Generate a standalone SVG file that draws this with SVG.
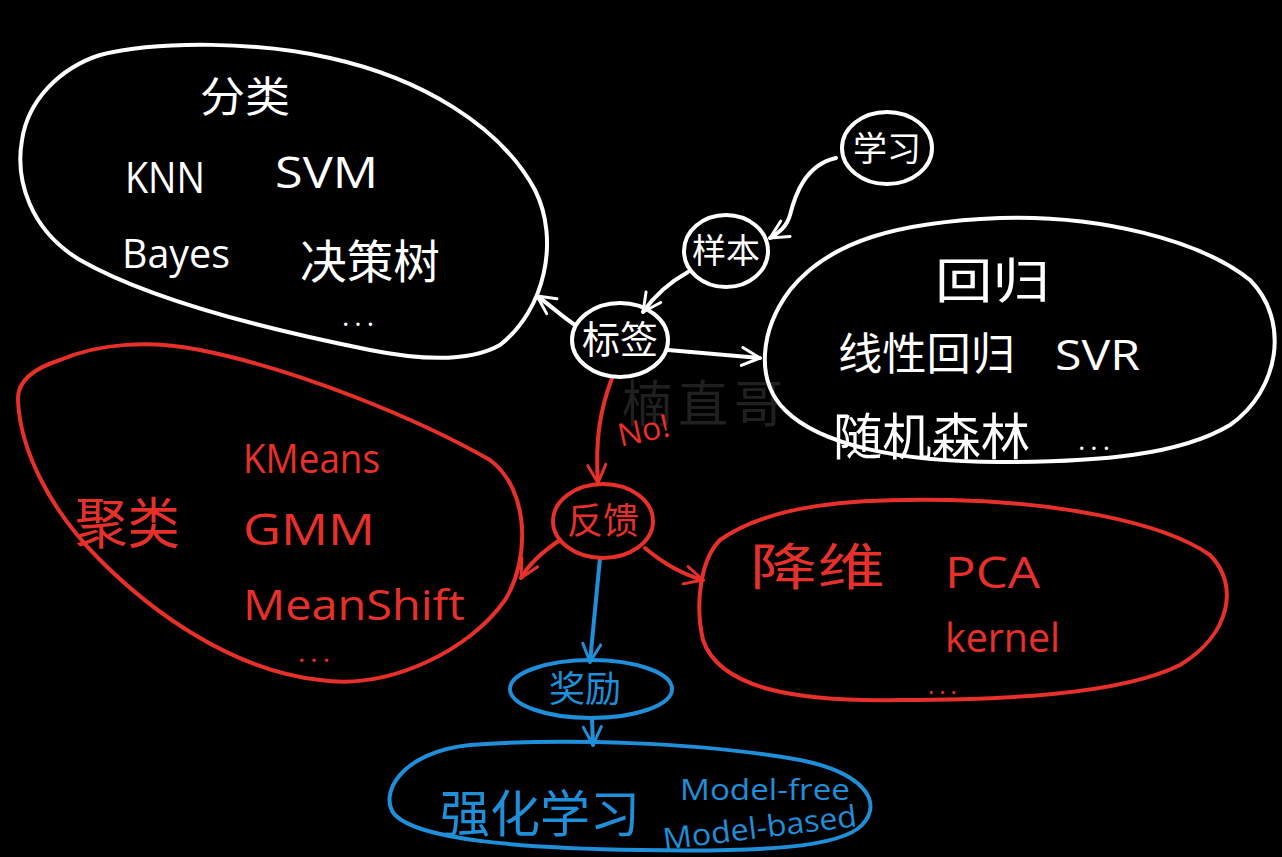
<svg xmlns="http://www.w3.org/2000/svg" width="1282" height="857" viewBox="0 0 1282 857">
<style>
.w{fill:none;stroke:#ffffff;stroke-width:4;stroke-linecap:round;stroke-linejoin:round}
.r{fill:none;stroke:#e8302a;stroke-width:4;stroke-linecap:round;stroke-linejoin:round}
.b{fill:none;stroke:#1e8fd8;stroke-width:4;stroke-linecap:round;stroke-linejoin:round}
text{font-family:"Open Sans","Noto Sans CJK SC",sans-serif;font-weight:400}
.tw{fill:#ffffff}
.tr{fill:#e8302a}
.tb{fill:#1e8fd8}
.c{text-anchor:middle}
.dots{font-size:28px;letter-spacing:5px}
</style>
<defs>
<marker id="aw" viewBox="0 0 24 24" refX="21" refY="12" markerWidth="24" markerHeight="24" markerUnits="userSpaceOnUse" orient="auto">
<path d="M3,3 L21,12 L3,21" fill="none" stroke="#ffffff" stroke-width="3" stroke-linecap="round" stroke-linejoin="round"/>
</marker>
<marker id="ar" viewBox="0 0 24 24" refX="21" refY="12" markerWidth="24" markerHeight="24" markerUnits="userSpaceOnUse" orient="auto">
<path d="M3,3 L21,12 L3,21" fill="none" stroke="#e8302a" stroke-width="3" stroke-linecap="round" stroke-linejoin="round"/>
</marker>
<marker id="ab" viewBox="0 0 24 24" refX="21" refY="12" markerWidth="24" markerHeight="24" markerUnits="userSpaceOnUse" orient="auto">
<path d="M3,3 L21,12 L3,21" fill="none" stroke="#1e8fd8" stroke-width="3" stroke-linecap="round" stroke-linejoin="round"/>
</marker>
</defs>
<rect x="0" y="0" width="1282" height="857" fill="#000000"/>
<text x="622" y="422" font-size="50" fill="#202020" style="letter-spacing:6px">楠直哥</text>

<g id="connectors">
<path class="w" d="M836,158 C805,165 795,195 790,215 C787,226 780,232 770,238" marker-end="url(#aw)"/>
<path class="w" d="M688,272 C670,282 655,295 643,312" marker-end="url(#aw)"/>
<path class="w" d="M575,325 C560,315 550,305 537,296" marker-end="url(#aw)"/>
<path class="w" d="M668,350 L760,358" marker-end="url(#aw)"/>
<path class="r" d="M612,378 C600,410 595,440 598,483" marker-end="url(#ar)"/>
<path class="r" d="M560,540 C545,550 530,562 521,578" marker-end="url(#ar)"/>
<path class="r" d="M645,548 C665,565 685,575 703,580" marker-end="url(#ar)"/>
<path class="b" d="M600,558 L590,662" marker-end="url(#ab)"/>
<path class="b" d="M592,718 L593,745" marker-end="url(#ab)"/>
<text class="tr" x="617" y="442" font-size="32" textLength="52" lengthAdjust="spacingAndGlyphs" transform="rotate(-12 642 428)">No!</text>
</g>

<g id="classification">
<path class="w" d="M100,55 C160,40 260,42 330,58 C420,78 500,125 535,190 C560,240 545,310 500,345 C470,362 420,360 370,350 C270,330 150,300 80,260 C30,230 15,180 22,140 C28,100 60,68 100,55 Z"/>
<text class="tw" x="200" y="112" font-size="42" textLength="90" lengthAdjust="spacingAndGlyphs">分类</text>
<text class="tw" x="125" y="193" font-size="44" textLength="80" lengthAdjust="spacingAndGlyphs">KNN</text>
<text class="tw" x="275" y="188" font-size="44" textLength="103" lengthAdjust="spacingAndGlyphs">SVM</text>
<text class="tw" x="122" y="268" font-size="40" textLength="108" lengthAdjust="spacingAndGlyphs">Bayes</text>
<text class="tw" x="300" y="278" font-size="46" textLength="140" lengthAdjust="spacingAndGlyphs">决策树</text>
<text class="tw dots" x="342" y="326">...</text>
</g>

<g id="regression">
<path class="w" d="M790,290 C830,240 900,222 1000,218 C1100,215 1200,240 1250,280 C1290,320 1280,390 1230,425 C1180,455 1100,462 1000,462 C900,462 820,445 785,410 C755,380 760,330 790,290 Z"/>
<text class="tw" x="935" y="298" font-size="48" textLength="115" lengthAdjust="spacingAndGlyphs">回归</text>
<text class="tw" x="838" y="370" font-size="44" textLength="177" lengthAdjust="spacingAndGlyphs">线性回归</text>
<text class="tw" x="1055" y="370" font-size="42" textLength="85" lengthAdjust="spacingAndGlyphs">SVR</text>
<text class="tw" x="833" y="455" font-size="50" textLength="197" lengthAdjust="spacingAndGlyphs">随机森林</text>
<text class="tw dots" x="1078" y="450">...</text>
</g>

<g id="clustering">
<path class="r" d="M60,360 C100,343 150,340 200,350 C300,370 420,420 490,460 C530,490 530,560 505,600 C470,650 390,690 320,680 C230,670 150,610 100,560 C50,510 20,450 18,400 C17,380 35,368 60,360 Z"/>
<text class="tr" x="75" y="543" font-size="55" textLength="105" lengthAdjust="spacingAndGlyphs">聚类</text>
<text class="tr" x="243" y="473" font-size="40" textLength="137" lengthAdjust="spacingAndGlyphs">KMeans</text>
<text class="tr" x="243" y="545" font-size="44" textLength="132" lengthAdjust="spacingAndGlyphs">GMM</text>
<text class="tr" x="243" y="620" font-size="42" textLength="222" lengthAdjust="spacingAndGlyphs">MeanShift</text>
<text class="tr dots" x="298" y="662">...</text>
</g>

<g id="dimreduction">
<path class="r" d="M720,540 C770,505 850,498 950,500 C1050,502 1160,520 1210,555 C1240,585 1230,635 1180,665 C1120,695 1000,700 900,700 C800,702 720,690 703,640 C695,605 700,560 720,540 Z"/>
<text class="tr" x="750" y="585" font-size="50" textLength="135" lengthAdjust="spacingAndGlyphs">降维</text>
<text class="tr" x="945" y="588" font-size="44" textLength="95" lengthAdjust="spacingAndGlyphs">PCA</text>
<text class="tr" x="945" y="652" font-size="40" textLength="115" lengthAdjust="spacingAndGlyphs">kernel</text>
<text class="tr" x="928" y="694" font-size="24" style="letter-spacing:5px">...</text>
</g>

<g id="learning">
<ellipse class="w" cx="887" cy="148" rx="45" ry="36"/>
<text class="tw c" x="887" y="161" font-size="34">学习</text>
</g>
<g id="sample">
<ellipse class="w" cx="726" cy="251" rx="42" ry="36"/>
<text class="tw c" x="726" y="263" font-size="34">样本</text>
</g>
<g id="label">
<ellipse class="w" cx="620" cy="340" rx="48" ry="37"/>
<text class="tw c" x="620" y="353" font-size="38">标签</text>
</g>
<g id="feedback">
<ellipse class="r" cx="603" cy="521" rx="50" ry="37"/>
<text class="tr c" x="603" y="534" font-size="36">反馈</text>
</g>
<g id="reward">
<ellipse class="b" cx="591" cy="689" rx="81" ry="29"/>
<text class="tb c" x="585" y="702" font-size="36">奖励</text>
</g>
<g id="rl">
<path class="b" d="M470,745 C560,738 700,742 800,760 C860,772 885,800 862,825 C840,848 760,852 640,850 C520,848 420,840 395,815 C378,795 400,752 470,745 Z"/>
<text class="tb" x="440" y="832" font-size="50" textLength="200" lengthAdjust="spacingAndGlyphs">强化学习</text>
<text class="tb" x="680" y="800" font-size="30" textLength="170" lengthAdjust="spacingAndGlyphs">Model-free</text>
<text class="tb" x="662" y="838" font-size="30" textLength="195" lengthAdjust="spacingAndGlyphs" transform="rotate(-7 760 825)">Model-based</text>
</g>
</svg>
